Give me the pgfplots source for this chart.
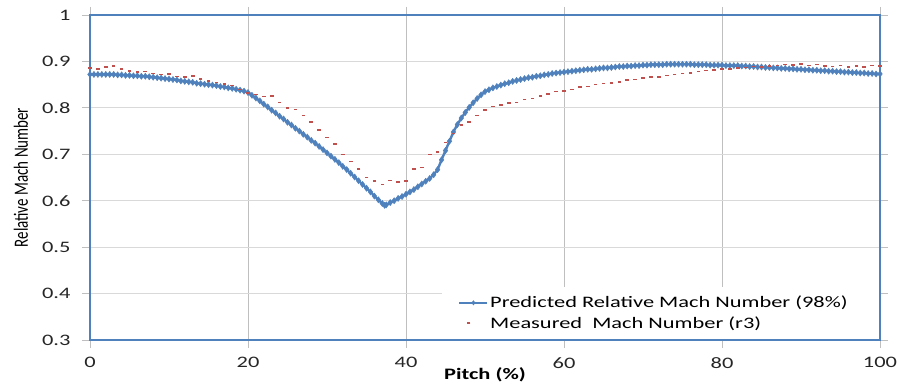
\documentclass[border=0pt]{standalone}
\usepackage{fontspec}
\setmainfont{Carlito}[FakeStretch=1.4]
\newfontfamily\ylabfont{Carlito}
\usepackage{pgfplots}
\pgfplotsset{compat=1.18}
\definecolor{xblue}{HTML}{4F81BD}
\definecolor{xred}{HTML}{C0504D}
\definecolor{gridh}{HTML}{D9D9D9}
\definecolor{gridv}{HTML}{BFBFBF}
\pgfplotsset{
  predleg/.style={legend image code/.code={\draw[mark repeat=2,mark phase=2,##1, line width=1.5bp, mark size=2.2bp] plot coordinates {(0bp,0bp)(14bp,0bp)(28bp,0bp)};}},
  measleg/.style={legend image code/.code={\path[draw=none,fill=none] (0bp,0bp) -- (28bp,0bp); \path[##1] plot[mark=-] coordinates {(9bp,0bp)};}},
}
\begin{document}
\begin{tikzpicture}
\begin{axis}[
  scale only axis,
  width=790bp, height=325bp,
  xmin=0, xmax=100, ymin=0.3, ymax=1,
  xtick={0,20,40,60,80,100},
  ytick={0.3,0.4,0.5,0.6,0.7,0.8,0.9,1},
  /pgf/number format/assume math mode=true,
  tick label style={font=\fontsize{16bp}{18bp}\selectfont, text=black!85},
  tick align=outside,
  major tick length=8bp,
  tick style={gridv, line width=0.8bp},
  xmajorgrids, ymajorgrids,
  x grid style={gridv, line width=1bp},
  y grid style={gridh, line width=1bp},
  axis line style={xblue, line width=1.8bp},
  yticklabel style={xshift=-8bp},
  xticklabel style={yshift=-6bp},
  xlabel={\fontsize{16bp}{18bp}\selectfont\bfseries Pitch (\%)},
  xlabel style={at={(rel axis cs:0.5,0)}, anchor=center, yshift=-35bp},
  ylabel={\ylabfont\fontsize{15bp}{17bp}\selectfont\scalebox{1}[1.35]{Relative Mach Number}},
  ylabel style={at={(rel axis cs:0,0.5)}, anchor=center, yshift=69bp},
  legend style={at={(rel axis cs:1,0)}, anchor=south east, xshift=-1.2bp, yshift=1.2bp, draw=none, fill=white,
    font=\fontsize{16bp}{18bp}\selectfont, row sep=3bp, inner xsep=17bp, inner ysep=7bp},
  legend cell align=left,
  clip=false,
]
\addplot[xblue, line width=2.4bp, mark=diamond*, mark size=3.1bp, mark options={xblue, line width=0.4bp}, predleg] coordinates {
(0,.872)(0.5,.872)(1,.872)(1.5,.872)(2,.872)(2.5,.872)(3,.872)(3.5,.871)(4,.871)(4.5,.870)
(5,.870)(5.5,.869)(6,.869)(6.5,.868)(7,.868)(7.5,.867)(8,.866)(8.5,.865)(9,.864)(9.5,.863)
(10,.862)(10.5,.861)(11,.860)(11.5,.858)(12,.857)(12.5,.856)(13,.855)(13.5,.853)(14,.852)(14.5,.851)
(15,.850)(15.5,.849)(16,.848)(16.5,.846)(17,.845)(17.5,.843)(18,.842)(18.5,.840)(19,.838)(19.5,.836)
(20,.833)(20.5,.827)(21,.821)(21.5,.815)(22,.808)(22.5,.802)(23,.795)(23.5,.789)(24,.782)(24.5,.776)
(25,.769)(25.5,.763)(26,.756)(26.5,.750)(27,.743)(27.5,.737)(28,.730)(28.5,.724)(29,.717)(29.5,.710)
(30,.703)(30.5,.696)(31,.689)(31.5,.682)(32,.674)(32.5,.667)(33,.659)(33.5,.651)(34,.643)(34.5,.635)
(35,.627)(35.5,.619)(36,.610)(36.5,.602)(37,.594)(37.3,.590)(37.5,.591)(38,.596)(38.5,.600)(39,.605)
(39.5,.609)(40,.614)(40.5,.619)(41,.624)(41.5,.630)(42,.636)(42.5,.642)(43,.648)(43.5,.656)(44,.667)
(44.5,.688)(45,.708)(45.5,.728)(46,.748)(46.5,.764)(47,.778)(47.5,.790)(48,.801)(48.5,.811)(49,.820)
(49.5,.828)(50,.835)(50.5,.839)(51,.843)(51.5,.846)(52,.849)(52.5,.852)(53,.854)(53.5,.857)(54,.859)
(54.5,.861)(55,.863)(55.5,.865)(56,.866)(56.5,.868)(57,.869)(57.5,.871)(58,.872)(58.5,.874)(59,.875)
(59.5,.876)(60,.877)(60.5,.878)(61,.879)(61.5,.880)(62,.881)(62.5,.882)(63,.883)(63.5,.883)(64,.884)
(64.5,.885)(65,.886)(65.5,.886)(66,.887)(66.5,.888)(67,.889)(67.5,.889)(68,.890)(68.5,.890)(69,.891)
(69.5,.891)(70,.892)(70.5,.892)(71,.893)(71.5,.893)(72,.893)(72.5,.893)(73,.894)(73.5,.894)(74,.894)
(74.5,.894)(75,.894)(75.5,.894)(76,.894)(76.5,.893)(77,.893)(77.5,.893)(78,.893)(78.5,.892)(79,.892)
(79.5,.892)(80,.892)(80.5,.891)(81,.891)(81.5,.891)(82,.891)(82.5,.890)(83,.890)(83.5,.889)(84,.889)
(84.5,.888)(85,.888)(85.5,.887)(86,.887)(86.5,.886)(87,.886)(87.5,.885)(88,.885)(88.5,.884)(89,.884)
(89.5,.883)(90,.883)(90.5,.882)(91,.882)(91.5,.881)(92,.881)(92.5,.880)(93,.880)(93.5,.879)(94,.879)
(94.5,.878)(95,.878)(95.5,.877)(96,.877)(96.5,.876)(97,.876)(97.5,.875)(98,.875)(98.5,.874)(99,.874)
(99.5,.873)(100,.873)
};
\addlegendentry{Predicted Relative Mach Number (98\%)\hspace*{12bp}}
\addplot[only marks, xred, mark=-, mark size=1.8bp, mark options={line width=1.5bp}, measleg] coordinates {
(0,0.886)(1,0.884)(2,0.888)(3,0.890)(4,0.884)(5,0.879)(6,0.877)(7,0.878)(8,0.874)(9,0.872)
(10,0.873)(11,0.868)(12,0.866)(13,0.869)(14,0.862)(15,0.858)(16,0.855)(17,0.851)(18,0.848)(19,0.840)
(20,0.832)(21,0.829)(22,0.824)(23,0.826)(24,0.812)(25,0.800)(26,0.796)(27,0.783)(28,0.770)(29,0.752)
(30,0.736)(31,0.722)(32,0.700)(33,0.684)(34,0.668)(35,0.650)(36,0.642)(37,0.635)(38,0.643)(39,0.640)
(40,0.642)(41,0.668)(42,0.672)(43,0.700)(44,0.705)(45,0.725)(46,0.745)(47,0.763)(48,0.770)(49,0.783)
(50,0.795)(51,0.803)(52,0.806)(53,0.810)(54,0.812)(55,0.818)(56,0.820)(57,0.826)(58,0.830)(59,0.835)
(60,0.836)(61,0.840)(62,0.845)(63,0.846)(64,0.850)(65,0.852)(66,0.854)(67,0.856)(68,0.860)(69,0.861)
(70,0.864)(71,0.866)(72,0.866)(73,0.870)(74,0.872)(75,0.874)(76,0.875)(77,0.878)(78,0.880)(79,0.882)
(80,0.884)(81,0.884)(82,0.886)(83,0.887)(84,0.889)(85,0.888)(86,0.890)(87,0.891)(88,0.893)(89,0.892)
(90,0.894)(91,0.891)(92,0.893)(93,0.890)(94,0.889)(95,0.891)(96,0.888)(97,0.890)(98,0.888)(99,0.891)
(100,0.890)
};
\addlegendentry{Measured\ \ Mach Number (r3)}
\end{axis}
\pgfresetboundingbox
\path ([xshift=-90bp,yshift=-46bp]current axis.south west) rectangle ([xshift=17bp,yshift=15bp]current axis.north east);
\end{tikzpicture}
\end{document}
